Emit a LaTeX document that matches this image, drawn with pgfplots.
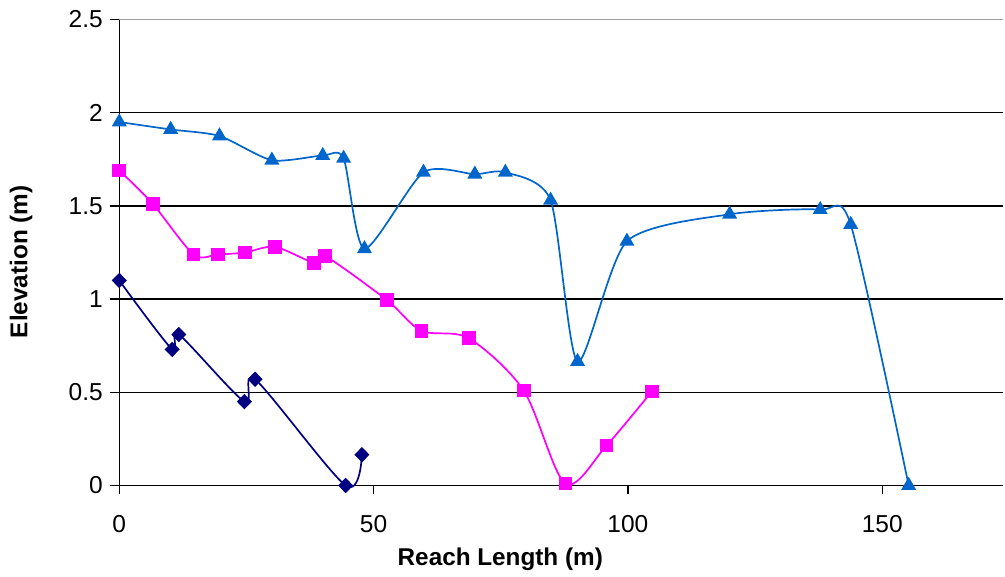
\documentclass[border=0pt]{standalone}
\usepackage{fontspec}
\setmainfont{Liberation Sans}
\usepackage{pgfplots}
\pgfplotsset{compat=1.18}
\definecolor{navy}{HTML}{000080}
\definecolor{mag}{HTML}{FF00FF}
\definecolor{cblue}{HTML}{0066CC}
\begin{document}
\begin{tikzpicture}
\path[use as bounding box] (-119.3pt,-91.5pt) rectangle (885.7pt,485.5pt);
\begin{axis}[
 scale only axis, width=884pt, height=466pt,
 at={(0,0)}, anchor=south west,
 xmin=0, xmax=173.8, ymin=0, ymax=2.5,
 xtick={0,50,100,150}, ytick={0,0.5,1,1.5,2},
 extra y ticks={2.5},
 extra y tick style={grid style={gray!75, line width=1.5pt}},
 ymajorgrids, grid style={black, line width=1.4pt},
 axis x line*=bottom, axis y line*=left,
 axis line style={black, line width=1.4pt, -},
 tick align=outside, major tick length=9pt, tick style={black, line width=1.4pt},
 /pgf/number format/assume math mode=true,
 every tick label/.append style={font=\fontsize{24.5}{28}\selectfont},
 xticklabel style={yshift=-17pt},
 yticklabel style={xshift=-4pt},
 label style={font=\bfseries\fontsize{24.3}{28}\selectfont},
 xlabel={Reach Length (m)}, ylabel={Elevation (m)},
 x label style={at={(axis description cs:0.431,-0.1727)}, anchor=base},
 y label style={at={(axis description cs:-0.111,0.48)}, anchor=center},
 clip=false,
]
\addplot[color=navy, line width=1.7pt, smooth, tension=0.5, mark=diamond*, mark size=6.5pt, mark options={solid, fill=navy, xscale=1.3}] coordinates {
(0,1.10) (10.4,0.73) (11.7,0.81) (24.6,0.45) (26.7,0.57) (44.5,0.0) (47.7,0.165)
};
\addplot[color=mag, line width=1.7pt, smooth, tension=0.5, mark=square*, mark size=6pt, mark options={solid, fill=mag}] coordinates {
(0,1.69) (6.6,1.51) (14.6,1.24) (19.4,1.24) (24.7,1.25) (30.6,1.28) (38.3,1.195) (40.5,1.23) (52.6,0.995) (59.4,0.83) (68.7,0.79) (79.5,0.51) (87.7,0.01) (95.8,0.215) (104.7,0.505)
};
\addplot[color=cblue, line width=1.7pt, smooth, tension=0.42, mark=triangle*, mark size=7pt, mark options={solid, fill=cblue}] coordinates {
(0,1.95) (10.1,1.91) (19.7,1.875) (30.0,1.745) (40.0,1.77) (44.1,1.755) (48.2,1.27) (59.8,1.68) (69.9,1.67) (75.9,1.68) (84.8,1.53) (90.1,0.665) (99.8,1.31) (120.0,1.455) (137.8,1.48) (143.8,1.40) (155.2,0.0)
};
\end{axis}
\end{tikzpicture}
\end{document}
